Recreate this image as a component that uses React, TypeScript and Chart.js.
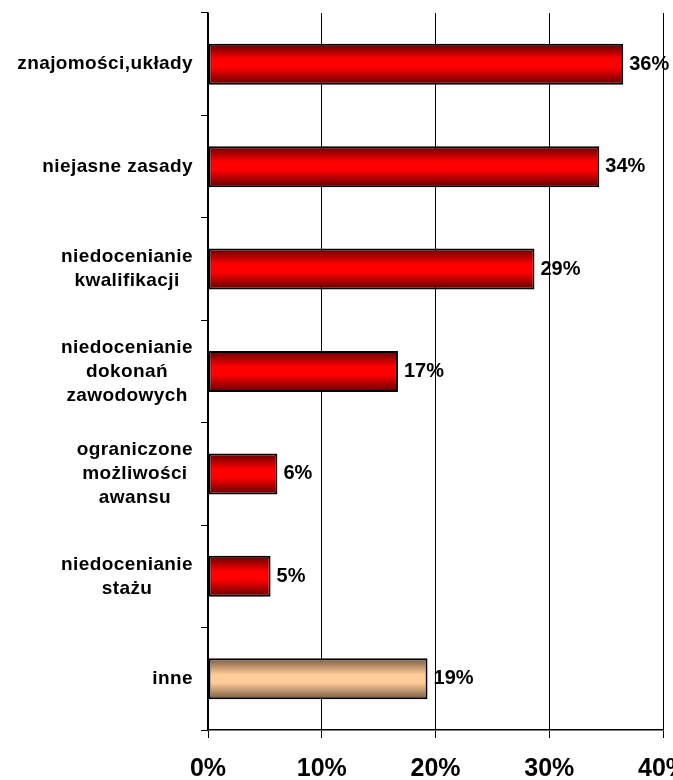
import React, { useEffect, useRef } from "react";
import { Chart, registerables } from "chart.js";

Chart.register(...registerables);

const categories: string[][] = [
  ["znajomości,układy"],
  ["niejasne zasady"],
  ["niedocenianie", "kwalifikacji"],
  ["niedocenianie", "dokonań", "zawodowych"],
  ["ograniczone", "możliwości", "awansu"],
  ["niedocenianie", "stażu"],
  ["inne"],
];
const values: number[] = [36.5, 34.4, 28.7, 16.7, 6.1, 5.5, 19.3];
const valueLabels: string[] = ["36%", "34%", "29%", "17%", "6%", "5%", "19%"];
const isOther: boolean[] = [false, false, false, false, false, false, true];
const xTicks: number[] = [0, 10, 20, 30, 40];

const FONT = "'Liberation Sans', Arial, sans-serif";
const BAR_FRACTION = 0.4;

export default function App() {
  const ref = useRef<HTMLCanvasElement | null>(null);

  useEffect(() => {
    if (!ref.current) return;

    const labelsPlugin = {
      id: "customLabels",
      afterDraw(chart: any) {
        const c = chart.ctx;
        const ys = chart.scales.y;
        const meta = chart.getDatasetMeta(0);
        c.save();
        c.fillStyle = "#000";
        c.font = `bold 19px ${FONT}`;
        try {
          c.letterSpacing = "0.4px";
        } catch (e) {}
        c.textAlign = "center";
        c.textBaseline = "middle";
        const lh = 24;
        categories.forEach((lines, i) => {
          const cy = ys.getPixelForValue(i);
          const maxW = Math.max(...lines.map((l) => c.measureText(l).width));
          const cx = 193 - maxW / 2;
          const y0 = cy - ((lines.length - 1) * lh) / 2;
          lines.forEach((l, j) => c.fillText(l, cx, y0 + j * lh));
        });
        try {
          c.letterSpacing = "0px";
        } catch (e) {}
        c.font = `bold 20px ${FONT}`;
        c.textAlign = "left";
        meta.data.forEach((el: any, i: number) => {
          c.fillText(valueLabels[i], el.x + 6, el.y);
        });
        c.restore();
      },
    };

    const chart = new Chart(ref.current, {
      type: "bar",
      data: {
        labels: categories.map((c) => c.join(" ")),
        datasets: [
          {
            data: values,
            borderColor: "#000",
            borderWidth: 2,
            borderSkipped: false,
            barPercentage: BAR_FRACTION,
            categoryPercentage: 1,
            backgroundColor: (ctx: any) => {
              const fallback = ctx.dataIndex !== undefined && isOther[ctx.dataIndex] ? "#ffcc99" : "#ff0000";
              const chart = ctx.chart;
              const ys = chart.scales && chart.scales.y;
              if (!ys || ctx.dataIndex === undefined) return fallback;
              const cy = ys.getPixelForValue(ctx.dataIndex);
              const h = (ys.height / categories.length) * BAR_FRACTION;
              if (!isFinite(cy) || !isFinite(h) || h <= 0) return fallback;
              const g = chart.ctx.createLinearGradient(0, cy - h / 2, 0, cy + h / 2);
              if (isOther[ctx.dataIndex]) {
                g.addColorStop(0, "#76583e");
                g.addColorStop(0.4, "#ffcc99");
                g.addColorStop(0.6, "#ffcc99");
                g.addColorStop(1, "#76583e");
              } else {
                g.addColorStop(0, "#600000");
                g.addColorStop(0.38, "#ff0000");
                g.addColorStop(0.58, "#ff0000");
                g.addColorStop(1, "#600000");
              }
              return g;
            },
          },
        ],
      },
      options: {
        indexAxis: "y",
        animation: false,
        responsive: false,
        maintainAspectRatio: false,
        layout: { padding: { top: 13, right: 57, left: 0, bottom: 0 } },
        plugins: {
          legend: { display: false },
          tooltip: { enabled: false },
          title: { display: false },
        },
        scales: {
          y: {
            type: "category",
            offset: true,
            ticks: { display: false },
            grid: {
              offset: true,
              drawOnChartArea: false,
              drawTicks: true,
              tickLength: 7,
              color: "#000",
              lineWidth: 1,
            },
            border: { display: true, color: "#000", width: 1.5 },
            afterFit: (s: any) => {
              s.width = 208;
            },
          },
          x: {
            type: "linear",
            min: 0,
            max: 40,
            afterBuildTicks: (s: any) => {
              s.ticks = xTicks.map((v) => ({ value: v }));
            },
            ticks: {
              callback: (v: any) => v + "%",
              color: "#000",
              font: { family: FONT, size: 25, weight: "bold" },
              padding: 16,
              maxRotation: 0,
              autoSkip: false,
            },
            grid: {
              color: "#000",
              lineWidth: 1,
              tickLength: 8,
              drawOnChartArea: true,
            },
            border: { display: true, color: "#000", width: 1.5 },
            afterFit: (s: any) => {
              s.height = 50;
            },
          },
        },
      },
      plugins: [labelsPlugin],
    });
    chart.update();

    return () => chart.destroy();
  }, []);

  return (
    <div
      style={{
        position: "fixed",
        left: 0,
        top: 0,
        width: 673,
        height: 780,
        overflow: "hidden",
        background: "#fff",
      }}
    >
      <canvas ref={ref} width={720} height={780} style={{ display: "block" }} />
    </div>
  );
}
